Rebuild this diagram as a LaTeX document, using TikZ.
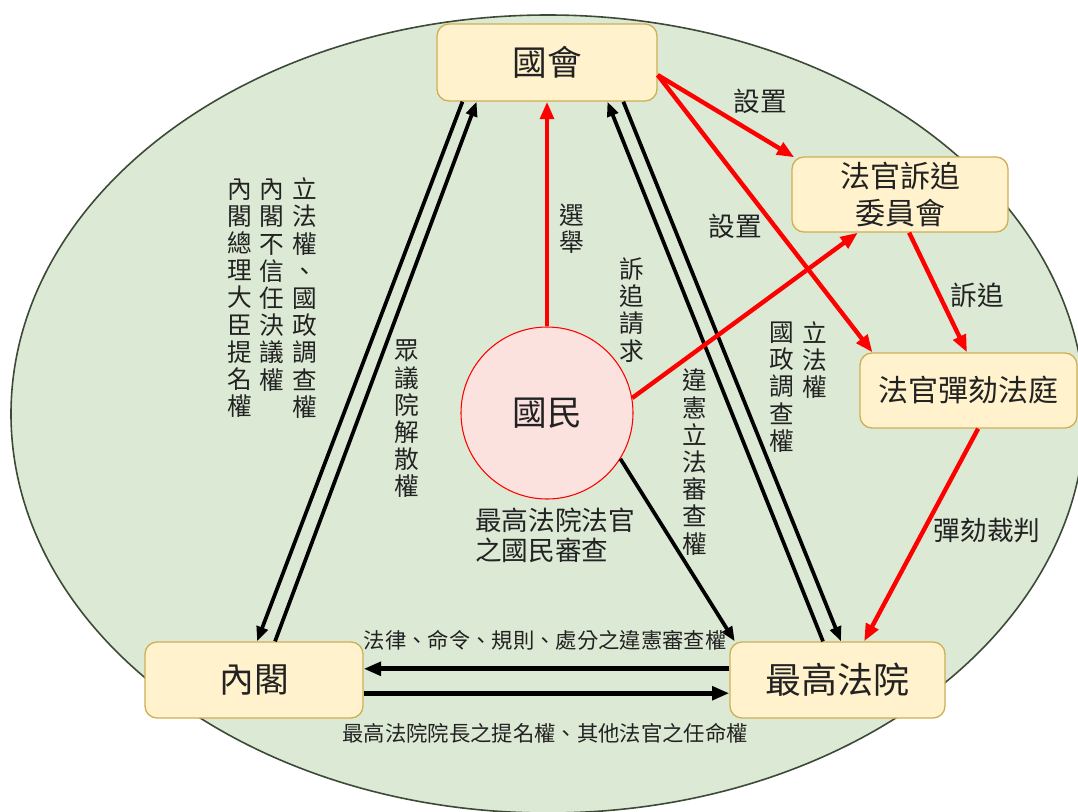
\documentclass[tikz,border=0pt]{standalone}
\usepackage{fontspec}
\setmainfont{Noto Sans CJK TC}
\usetikzlibrary{arrows.meta,calc}
\definecolor{ellfill}{HTML}{DCEAD5}
\definecolor{elldraw}{HTML}{3E4A38}
\definecolor{boxfill}{HTML}{FFF2CC}
\definecolor{boxdraw}{HTML}{CFAE55}
\definecolor{circfill}{HTML}{FCE2DE}
\definecolor{txt}{HTML}{222222}
\tikzset{
  box/.style={draw=boxdraw, line width=1pt, fill=boxfill, rounded corners=9pt, text=txt, align=center, inner sep=0pt},
  redarrow/.style={draw=red, line width=3.3pt, -{Triangle[length=13pt,width=10pt]}},
  blkarrow/.style={draw=black, line width=2.8pt, -{Triangle[length=11pt,width=8.5pt]}},
  hblk/.style={draw=black, line width=3.6pt, -{Triangle[length=13pt,width=10pt]}},
  lbl/.style={text=txt, inner sep=0pt, font=\fontsize{20}{22}\selectfont},
  vlbl/.style={text=txt, inner sep=0pt, align=center, font=\fontsize{18.5}{20.4}\selectfont},
  smlbl/.style={text=txt, inner sep=0pt, font=\fontsize{16}{18}\selectfont},
}
\begin{document}
\begin{tikzpicture}[x=0.75pt,y=-0.75pt]
\useasboundingbox (0,0) rectangle (1078,811);
\begin{scope}
\clip (0,0) rectangle (1078,811);
\fill[white] (0,0) rectangle (1078,811);
\draw[fill=ellfill, draw=elldraw, line width=1.2pt] (548,414) ellipse [x radius=537, y radius=399];
\end{scope}

% nodes
\node[box, minimum width=165pt, minimum height=57.75pt, font=\fontsize{26}{30}\selectfont] (kokkai) at (547,62.5) {國會};
\node[box, minimum width=162pt, minimum height=56.25pt, font=\fontsize{22.5}{27.5}\selectfont] (iinkai) at (900,194.5) {法官訴追\\委員會};
\node[box, minimum width=162.75pt, minimum height=56.25pt, font=\fontsize{22.5}{27}\selectfont] (houtei) at (968.5,390.5) {法官彈劾法庭};
\node[box, minimum width=163.5pt, minimum height=57pt, font=\fontsize{26}{30}\selectfont] (naikaku) at (254,680) {內閣};
\node[box, minimum width=161.25pt, minimum height=57pt, font=\fontsize{27}{30}\selectfont] (saikou) at (837.5,680) {最高法院};
\node[circle, draw=red, line width=0.8pt, fill=circfill, minimum size=129pt, inner sep=0pt, text=txt, font=\fontsize{26}{30}\selectfont] (kokumin) at (547,413) {國民};

% black arrows
\draw[blkarrow] ($(kokkai.south west)!0.118!(kokkai.south east)$) -- ($(naikaku.north west)!0.514!(naikaku.north east)$);
\draw[blkarrow] ($(naikaku.north west)!0.596!(naikaku.north east)$) -- ($(kokkai.south west)!0.182!(kokkai.south east)$);
\draw[blkarrow] ($(saikou.north west)!0.433!(saikou.north east)$) -- ($(kokkai.south west)!0.773!(kokkai.south east)$);
\draw[blkarrow] ($(kokkai.south west)!0.845!(kokkai.south east)$) -- ($(saikou.north west)!0.516!(saikou.north east)$);
\draw[blkarrow] (kokumin.-32) -- ($(saikou.north west)!0.025!(saikou.north east)$);
\draw[hblk] ($(saikou.north west)!0.355!(saikou.south west)$) -- ($(naikaku.north east)!0.355!(naikaku.south east)$);
\draw[hblk] ($(naikaku.north east)!0.671!(naikaku.south east)$) -- ($(saikou.north west)!0.671!(saikou.south west)$);

% red arrows
\draw[redarrow] (kokumin.north) -- (kokkai.south);
\draw[redarrow] ($(kokkai.north east)!0.66!(kokkai.south east)$) -- ($(iinkai.north west)+(3,1)$);
\draw[redarrow] ($(kokkai.north east)!0.66!(kokkai.south east)$) -- ($(houtei.north west)!0.06!(houtei.north east)$);
\draw[redarrow] (kokumin.10) -- ($(iinkai.south west)!0.306!(iinkai.south east)$);
\draw[redarrow] ($(iinkai.south west)!0.542!(iinkai.south east)$) -- ($(houtei.north west)!0.493!(houtei.north east)$);
\draw[redarrow] ($(houtei.south west)!0.544!(houtei.south east)$) -- ($(saikou.north west)!0.623!(saikou.north east)$);

% horizontal labels
\node[lbl] (l1) at (760,101) {設置};
\node[lbl] (l2) at (735,226) {設置};
\node[lbl] (l3) at (977,295) {訴追};
\node[lbl] (l4) at (987,530) {彈劾裁判};
\node[lbl, align=left, anchor=west, font=\fontsize{20}{22.5}\selectfont] (l5) at (475,535) {最高法院法官\\之國民審查};
\node[smlbl] (l6) at (545,640) {法律、命令、規則、處分之違憲審查權};
\node[smlbl] (l7) at (545,733) {最高法院院長之提名權、其他法官之任命權};

% vertical labels
\node[vlbl] (v1) at (305,298) {立\\法\\權\\、\\國\\政\\調\\查\\權};
\node[vlbl] (v2) at (272,285) {內\\閣\\不\\信\\任\\決\\議\\權};
\node[vlbl] (v3) at (240,298) {內\\閣\\總\\理\\大\\臣\\提\\名\\權};
\node[vlbl] (v4) at (407,419) {眾\\議\\院\\解\\散\\權};
\node[vlbl] (v5) at (572,229) {選\\舉};
\node[vlbl] (v6) at (632,310) {訴\\追\\請\\求};
\node[vlbl] (v7) at (695,462) {違\\憲\\立\\法\\審\\查\\權};
\node[vlbl] (v8) at (782,387) {國\\政\\調\\查\\權};
\node[vlbl] (v9) at (815,360) {立\\法\\權};
\end{tikzpicture}
\end{document}
